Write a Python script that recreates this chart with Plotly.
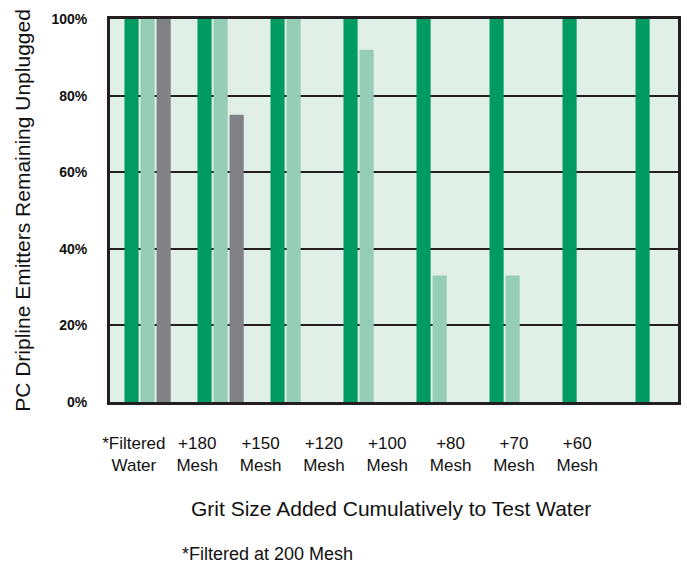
import plotly.graph_objects as go

# Grit size groups (x) and share of emitters still flowing, per series
categories = ["*Filtered<br>Water", "+180<br>Mesh", "+150<br>Mesh", "+120<br>Mesh",
              "+100<br>Mesh", "+80<br>Mesh", "+70<br>Mesh", "+60<br>Mesh"]
series_dark = [100, 100, 100, 100, 100, 100, 100, 100]
series_light = [100, 100, 100, 92, 33, 33, 0, 0]
series_gray = [100, 75, 0, 0, 0, 0, 0, 0]
y_ticks = [0, 20, 40, 60, 80, 100]
y_tick_text = ["0%", "20%", "40%", "60%", "80%", "100%"]

DARK = "#009a63"
LIGHT = "#96cdb6"
GRAY = "#808285"
INK = "#231f20"
BG = "#e0efe8"

fig = go.Figure()
for vals, col in [(series_dark, DARK), (series_light, LIGHT), (series_gray, GRAY)]:
    fig.add_trace(go.Bar(x=categories, y=vals, marker=dict(color=col, line=dict(width=0)),
                         hoverinfo="skip", showlegend=False))

# invisible helper trace so the label axis is drawn
fig.add_trace(go.Scatter(x=list(range(len(categories))), y=[0] * len(categories),
                         xaxis="x2", mode="markers", marker=dict(opacity=0),
                         hoverinfo="skip", showlegend=False))

fig.update_layout(
    width=687, height=563,
    margin=dict(l=110, r=6, t=19, b=161),
    paper_bgcolor="white",
    plot_bgcolor=BG,
    barmode="group",
    bargap=0.34,
    bargroupgap=0.12,
    font=dict(family="Liberation Sans, Arial, sans-serif", color="#111111"),
    xaxis=dict(type="category", range=[-0.515, 7.265], showticklabels=False, ticks="",
               showgrid=False, zeroline=False,
               showline=True, mirror=True, linewidth=3, linecolor=INK),
    xaxis2=dict(overlaying="x", side="bottom", range=[-0.377, 8.59],
                tickmode="array", tickvals=list(range(len(categories))), ticktext=categories,
                ticks="", showgrid=False, zeroline=False, showline=False,
                tickfont=dict(size=17), ticklabelstandoff=29),
    yaxis=dict(range=[0, 100], tickmode="array", tickvals=y_ticks, ticktext=y_tick_text,
               tickfont=dict(size=14, family="Liberation Sans, Arial, sans-serif", weight="bold"),
               ticks="", ticklabelstandoff=17,
               showgrid=True, gridcolor=INK, gridwidth=1.5, zeroline=False,
               showline=True, mirror=True, linewidth=3, linecolor=INK,
               title=dict(text="PC Dripline Emitters Remaining Unplugged",
                          font=dict(size=21), standoff=16)),
    annotations=[
        dict(text="Grit Size Added Cumulatively to Test Water", xref="paper", yref="paper",
             x=(392 - 110) / 571, y=-(508 - 402) / 383, xanchor="center", yanchor="middle",
             showarrow=False, font=dict(size=21)),
        dict(text="*Filtered at 200 Mesh", xref="paper", yref="paper",
             x=(180 - 110) / 571, y=-(554 - 402) / 383, xanchor="left", yanchor="middle",
             showarrow=False, font=dict(size=18)),
    ],
)

fig.write_html("out.html")
